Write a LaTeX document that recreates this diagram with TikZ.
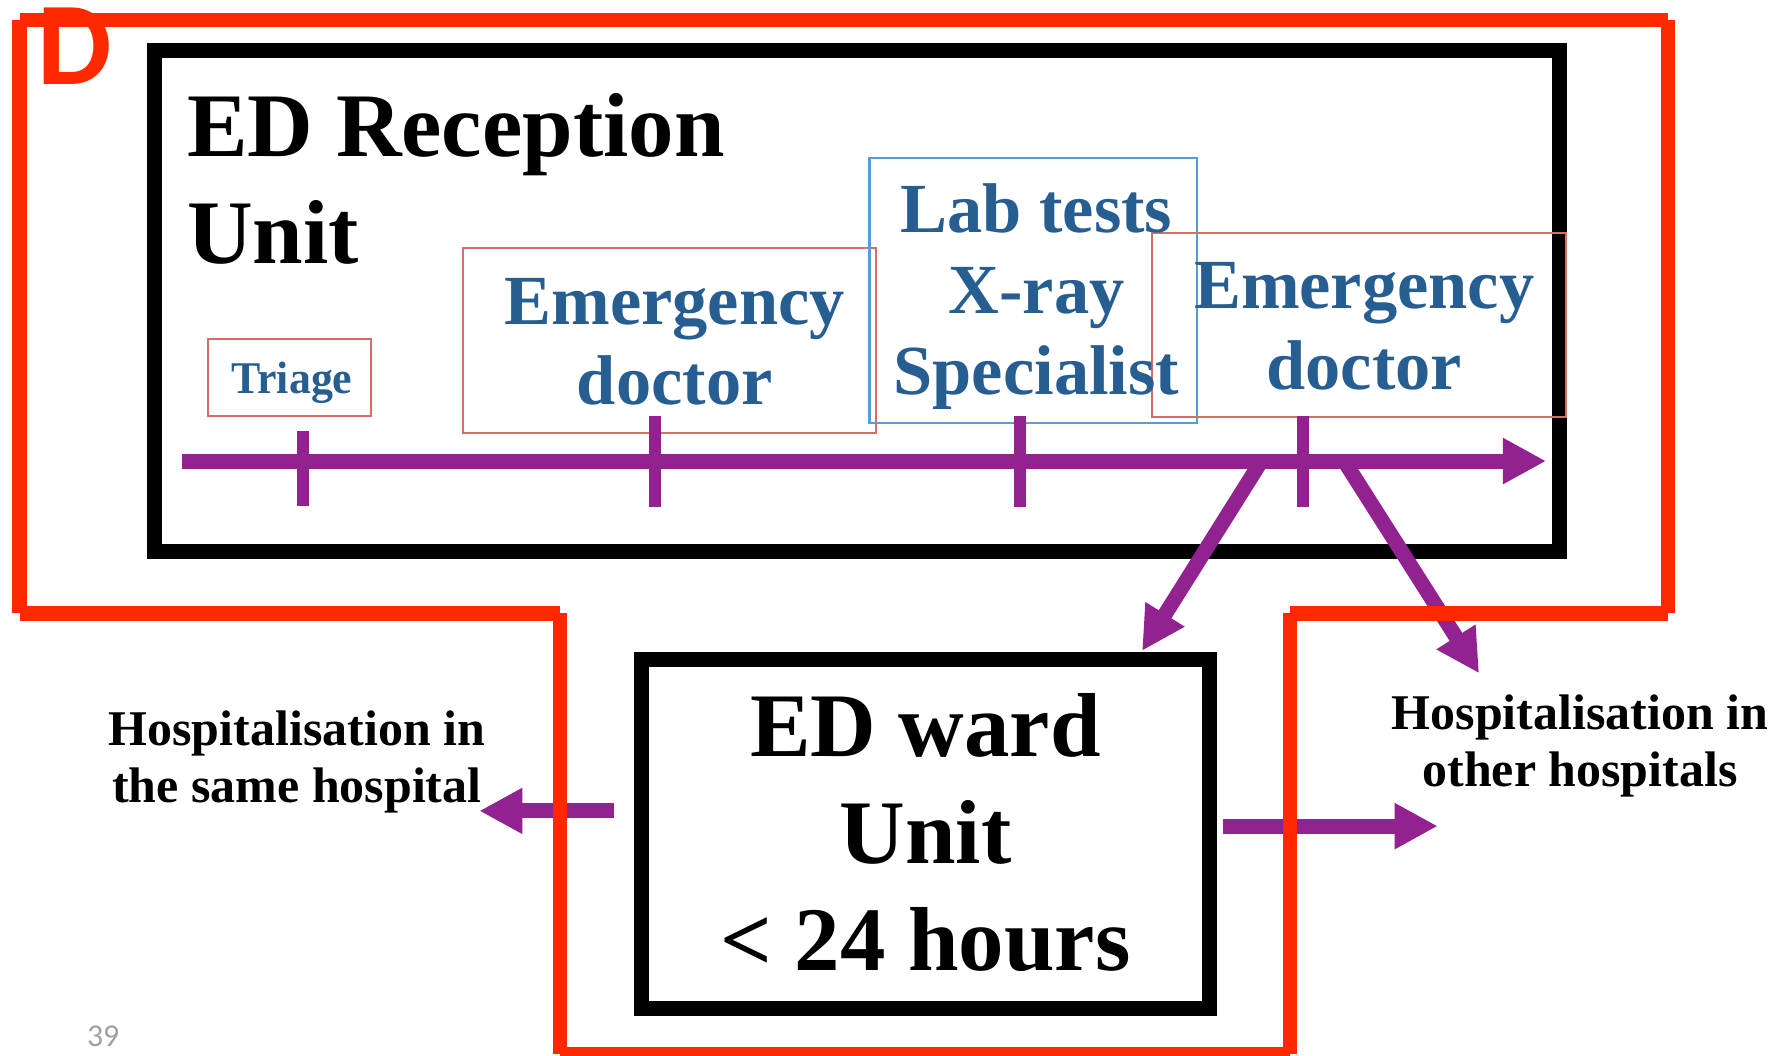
\documentclass[tikz,border=0pt]{standalone}
\usepackage{fontspec}
\setmainfont{Liberation Serif}
\newfontfamily\calibri{Carlito}
\usepackage{graphicx}
\usetikzlibrary{arrows.meta}
\definecolor{outred}{RGB}{255,40,0}
\definecolor{purp}{RGB}{146,34,143}
\definecolor{txtblue}{RGB}{39,94,146}
\definecolor{boxred}{RGB}{214,110,100}
\definecolor{boxblue}{RGB}{91,155,213}
\definecolor{pgnum}{RGB}{160,160,160}
\begin{document}
\begin{tikzpicture}[x=1pt,y=-1pt,
  unitbox/.style={draw=black,line width=13.2pt,inner sep=0pt,rectangle},
  stagebox/.style={draw=boxred,line width=1.8pt,inner sep=0pt,rectangle},
  labframe/.style={draw=boxblue,line width=1.8pt,inner sep=0pt,rectangle},
  flow/.style={draw=purp,line width=13.2pt,-{Triangle[length=38pt,width=38pt]}},
  tickmark/.style={draw=purp,line width=10.6pt},
  outline/.style={draw=outred,line width=12.8pt,line cap=butt},
  titletxt/.style={inner sep=0pt,font=\bfseries\fontsize{80}{94}\selectfont},
  stagetxt/.style={inner sep=0pt,text=txtblue,font=\bfseries\fontsize{62}{71}\selectfont},
  desttxt/.style={inner sep=0pt,font=\bfseries\fontsize{44}{50.7}\selectfont}]
\useasboundingbox (0,0) rectangle (1568,929.7);

% unit boxes
\node[unitbox,minimum width=1236.7pt,minimum height=441.1pt] (recep) at (754.7,265.3) {};
\node[unitbox,minimum width=499.6pt,minimum height=307.6pt] (ward) at (814.8,734.2) {};

% stage boxes
\node[stagebox,minimum width=143.6pt,minimum height=67.5pt] (triagebox) at (254.6,332.25) {};
\node[stagebox,minimum width=364.2pt,minimum height=162.9pt] (doc1box) at (589.5,300.05) {};
\node[labframe,minimum width=288.7pt,minimum height=233.1pt] (labbox) at (909.85,255.55) {};
\node[stagebox,minimum width=364.2pt,minimum height=162pt] (doc2box) at (1196.7,286.4) {};

% coordinates
\coordinate (tl0) at (160,405.9);
\coordinate (tl1) at (1361.2,405.9);
\coordinate (t1a) at (267,379.2);   \coordinate (t1b) at (267,445.7);
\coordinate (t2a) at (576.7,366);   \coordinate (t2b) at (576.7,446);
\coordinate (t3a) at (897.7,366);   \coordinate (t3b) at (897.7,446);
\coordinate (t4a) at (1147.5,366);  \coordinate (t4b) at (1147.5,446);
\coordinate (dl0) at (1110.5,405.9); \coordinate (dl1) at (1005.5,573);
\coordinate (dr0) at (1183.4,405.9); \coordinate (dr1) at (1302.2,592.8);
\coordinate (la0) at (540.3,713.9);  \coordinate (la1) at (422,713.9);
\coordinate (ra0) at (1076.3,727.3); \coordinate (ra1) at (1265.8,727.3);

% timeline
\draw[flow] (tl0) -- (tl1);
\draw[tickmark] (t1a) -- (t1b);
\draw[tickmark] (t2a) -- (t2b);
\draw[tickmark] (t3a) -- (t3b);
\draw[tickmark] (t4a) -- (t4b);
\draw[flow] (dl0) -- (dl1);
\draw[flow] (dr0) -- (dr1);
\draw[flow] (la0) -- (la1);
\draw[flow] (ra0) -- (ra1);

% red outline
\coordinate (rA) at (17.3,17.6);
\coordinate (rB) at (1468.4,17.6);
\coordinate (rC) at (1468.4,540);
\coordinate (rD) at (1135.7,540);
\coordinate (rE) at (1135.7,928);
\coordinate (rF) at (493,928);
\coordinate (rG) at (493,540);
\coordinate (rH) at (17.3,540);
\draw[outline] (rA) -- (rB);
\draw[outline] (rB) -- (rC);
\draw[outline] (rC) -- (rD);
\draw[outline] (rD) -- (rE);
\draw[outline] (rE) -- (rF);
\draw[outline] (rF) -- (rG);
\draw[outline] (rG) -- (rH);
\draw[outline] (rH) -- (rA);

% texts
\node[anchor=base west,inner sep=0pt,text=outred,font=\calibri\bfseries\fontsize{104}{118}\selectfont] (dmark) at (33,74) {D};
\node[titletxt,anchor=base west] (receptxt) at (164.5,138) {\begin{tabular}[t]{@{}l@{}}ED Reception\\Unit\end{tabular}};
\node[titletxt,anchor=base] (wardtxt) at (814.8,666.2) {\begin{tabular}[t]{@{}c@{}}ED ward\\Unit\\< 24 hours\end{tabular}};
\node[inner sep=0pt,text=txtblue,font=\bfseries\fontsize{40}{46}\selectfont,anchor=base] (triagetxt) at (257,346.3) {\scalebox{0.965}[1]{Triage}};
\node[stagetxt,anchor=base] (doc1txt) at (594,285.5) {\begin{tabular}[t]{@{}c@{}}Emergency\\doctor\end{tabular}};
\node[stagetxt,anchor=base] (labtxt) at (912.5,205) {\begin{tabular}[t]{@{}c@{}}Lab tests\\X-ray\\Specialist\end{tabular}};
\node[stagetxt,anchor=base] (doc2txt) at (1201,271.5) {\begin{tabular}[t]{@{}c@{}}Emergency\\doctor\end{tabular}};
\node[desttxt,anchor=base] (samehosp) at (261.3,656) {\begin{tabular}[t]{@{}c@{}}Hospitalisation in\\the same hospital\end{tabular}};
\node[desttxt,anchor=base] (otherhosp) at (1391,642.1) {\begin{tabular}[t]{@{}c@{}}Hospitalisation in\\other hospitals\end{tabular}};
\node[anchor=base west,inner sep=0pt,text=pgnum,font=\calibri\fontsize{28}{34}\selectfont] (pagenum) at (76.5,921.6) {39};
\end{tikzpicture}
\end{document}
